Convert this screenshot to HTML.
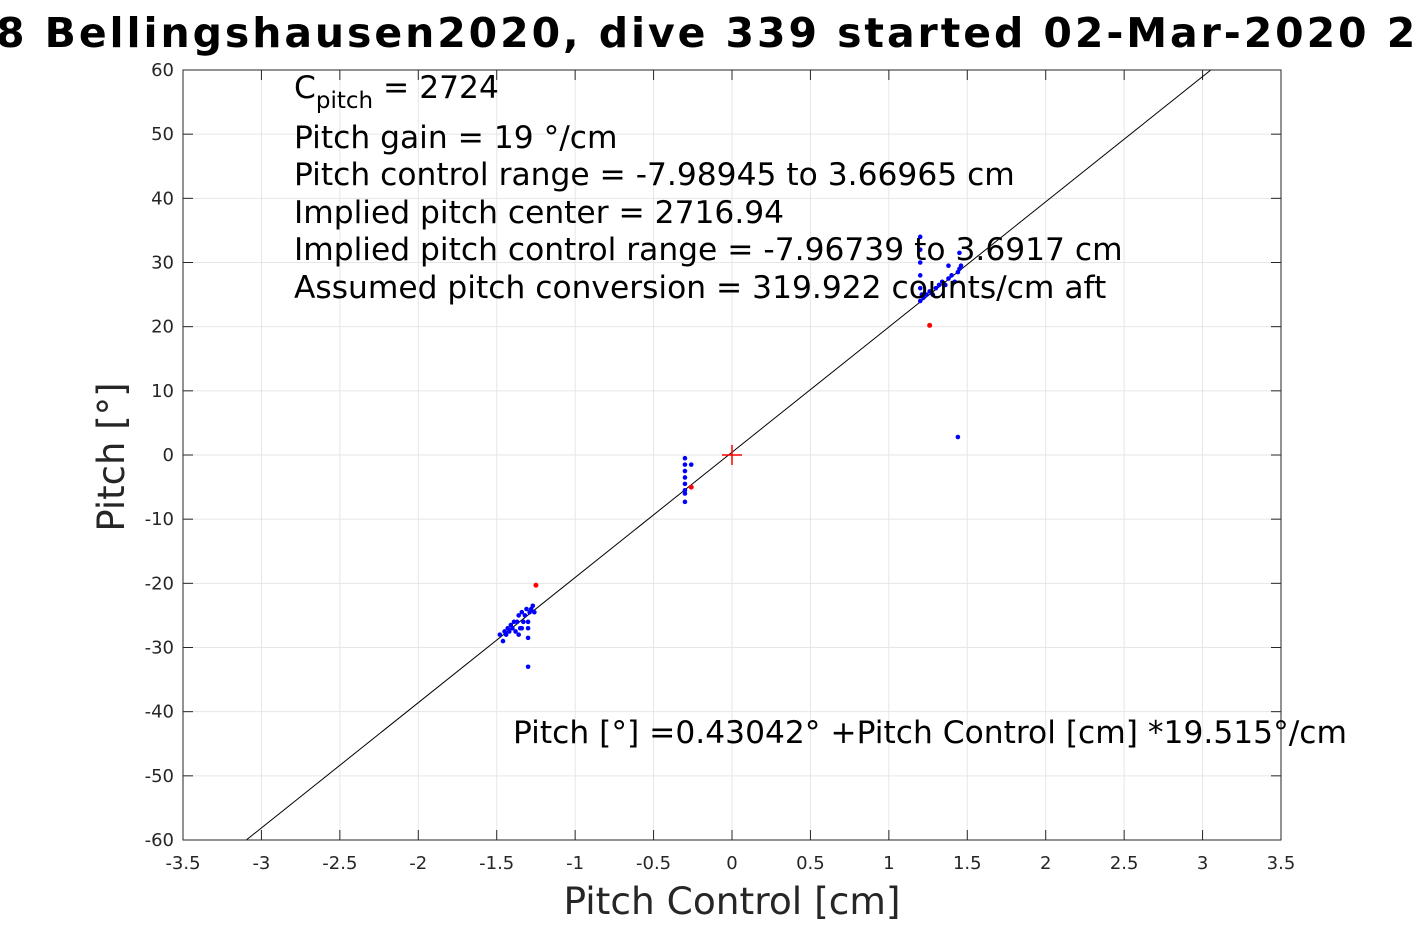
<!DOCTYPE html>
<html><head><meta charset="utf-8"><style>
body{margin:0;background:#fff;}
svg text{font-family:"DejaVu Sans","Liberation Sans",sans-serif;}
</style></head><body>
<svg id="chart" width="1417" height="945" viewBox="0 0 1417 945" xmlns="http://www.w3.org/2000/svg">
<rect width="1417" height="945" fill="#fff"/>
<text x="-4" y="47" font-size="41" font-weight="bold" fill="#000" textLength="1470" lengthAdjust="spacing">8 Bellingshausen2020, dive 339 started 02-Mar-2020 23:</text>
<g id="grid"></g>
<g id="ticks"></g>
<defs><clipPath id="pc"><rect x="183" y="70" width="1098" height="770"/></clipPath></defs>
<g id="marks" clip-path="url(#pc)"></g>
<rect x="183" y="70" width="1098" height="770" fill="none" stroke="#262626" stroke-width="1"/>
<text x="732" y="914" font-size="37.5" text-anchor="middle" fill="#262626">Pitch Control [cm]</text>
<text transform="translate(124,457) rotate(-90)" font-size="37" text-anchor="middle" fill="#262626">Pitch [°]</text>
<g font-size="31.3" fill="#000">
<text x="294" y="98">C<tspan font-size="23" dy="10">pitch</tspan><tspan dy="-10"> = 2724</tspan></text>
<text x="294" y="148">Pitch gain = 19 °/cm</text>
<text x="294" y="185">Pitch control range = -7.98945 to 3.66965 cm</text>
<text x="294" y="223">Implied pitch center = 2716.94</text>
<text x="294" y="260">Implied pitch control range = -7.96739 to 3.6917 cm</text>
<text x="294" y="298">Assumed pitch conversion = 319.922 counts/cm aft</text>
<text x="513" y="743">Pitch [°] =0.43042° +Pitch Control [cm] *19.515°/cm</text>
</g>
</svg>
<script>
const xTicks=[-3.5,-3,-2.5,-2,-1.5,-1,-0.5,0,0.5,1,1.5,2,2.5,3,3.5];
const yTicks=[-60,-50,-40,-30,-20,-10,0,10,20,30,40,50,60];
const fitIntercept=0.43042, fitSlope=19.515;
const blueX=[-1.48,-1.46,-1.45,-1.44,-1.43,-1.42,-1.41,-1.40,-1.39,-1.38,-1.37,-1.36,-1.35,-1.34,-1.33,-1.32,-1.31,-1.30,-1.30,-1.29,-1.28,-1.27,-1.26,-1.36,-1.34,-1.30,-1.30,
 -0.30,-0.30,-0.30,-0.30,-0.30,-0.30,-0.30,-0.30,-0.26,
 1.20,1.20,1.20,1.20,1.20,1.20,1.21,1.22,1.24,1.26,1.28,1.30,1.32,1.34,1.36,1.38,1.40,1.42,1.44,1.45,1.46,1.38,1.45,1.44];
const blueY=[-28,-29,-27.5,-28,-27,-27.5,-26.5,-27,-26,-27.5,-26,-25,-27,-24.5,-26,-25,-24,-26,-28.5,-24.5,-24,-23.5,-24.5,-28,-27,-33,-27,
 -0.5,-1.5,-2.5,-3.5,-4.5,-5.5,-6,-7.3,-1.5,
 34,32,30,28,26,24,25,24.5,25,25.5,25,26,26.5,27,26.5,27.5,28,27,28.5,29,29.5,29.5,31.5,2.8];
const redX=[-1.25,1.26,-0.26];
const redY=[-20.3,20.2,-5];
const X0=183,X1=1281,Y0=840,Y1=70;
const sx=v=>X0+(v-xTicks[0])/(xTicks[xTicks.length-1]-xTicks[0])*(X1-X0);
const sy=v=>Y0-(v-yTicks[0])/(yTicks[yTicks.length-1]-yTicks[0])*(Y0-Y1);
const NS="http://www.w3.org/2000/svg";
function mk(tag,attrs,parent){const e=document.createElementNS(NS,tag);for(const k in attrs)e.setAttribute(k,attrs[k]);parent.appendChild(e);return e;}
const grid=document.getElementById('grid'),ticks=document.getElementById('ticks'),marks=document.getElementById('marks');
xTicks.forEach(t=>{const x=sx(t);
 const g=mk('line',{x1:x,x2:x,y1:Y1,y2:Y0,stroke:'#e6e6e6','stroke-width':1},grid);
 
 
 mk('line',{x1:x,x2:x,y1:Y0,y2:Y0-10,stroke:'#262626'},ticks);
 mk('line',{x1:x,x2:x,y1:Y1,y2:Y1+10,stroke:'#262626'},ticks);
 const l=mk('text',{x:x,y:Y0+29,'font-size':18,'text-anchor':'middle',fill:'#262626'},ticks);
 
 
 l.textContent=String(t);});
yTicks.forEach(t=>{const y=sy(t);
 const g=mk('line',{x1:X0,x2:X1,y1:y,y2:y,stroke:'#e6e6e6','stroke-width':1},grid);
 
 
 mk('line',{x1:X0,x2:X0+10,y1:y,y2:y,stroke:'#262626'},ticks);
 mk('line',{x1:X1,x2:X1-10,y1:y,y2:y,stroke:'#262626'},ticks);
 const l=mk('text',{x:X0-9,y:y+6,'font-size':18,'text-anchor':'end',fill:'#262626'},ticks);
 
 
 l.textContent=String(t);});
const fl=mk('line',{x1:sx(-3.5),y1:sy(fitIntercept+fitSlope*-3.5),x2:sx(3.5),y2:sy(fitIntercept+fitSlope*3.5),stroke:'#000','stroke-width':1},marks);


blueX.forEach((v,i)=>{const c=mk('circle',{cx:sx(v),cy:sy(blueY[i]),r:2.3,fill:'#0000ff'},marks);
 
 });
redX.forEach((v,i)=>{const c=mk('circle',{cx:sx(v),cy:sy(redY[i]),r:2.5,fill:'#ff0000'},marks);
 
 });
const cx=sx(0),cy=sy(0);
const p=mk('path',{d:`M${cx-10},${cy}H${cx+10}M${cx},${cy-10}V${cy+10}`,stroke:'#ff0000','stroke-width':1.5,fill:'none'},marks);


</script>
</body></html>
